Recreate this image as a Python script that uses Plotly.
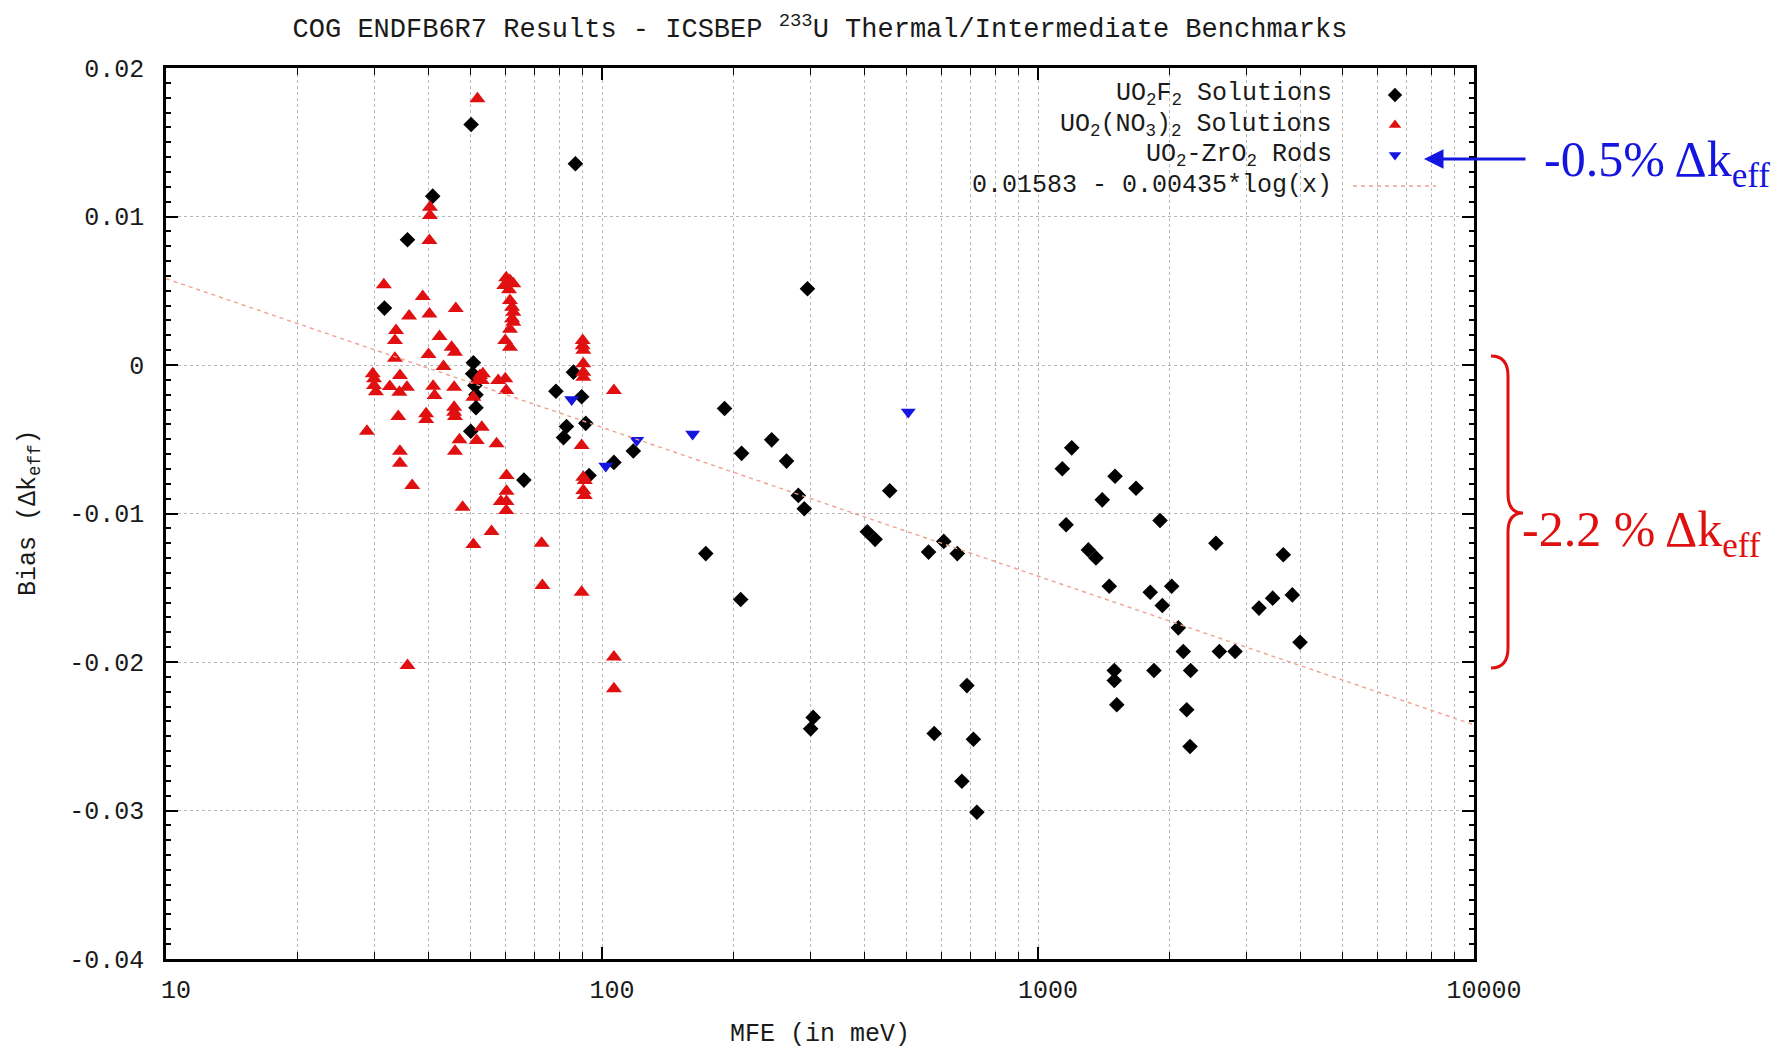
import numpy as np
import plotly.graph_objects as go

# ---------------- data ----------------
uo2f2_mfe = [50.1, 86.9, 40.9, 35.8, 31.7, 296, 50.7, 50.5, 51.1, 51.4, 51.4, 50.0,
             78.4, 86.0, 89.8, 91.8, 82.9, 81.6, 118, 106.5, 93.4, 66.2, 191, 209,
             245, 265, 282, 291, 457, 173, 208, 406, 423, 561, 608, 653, 305, 301,
             687, 578, 711, 669, 724, 1195, 1137, 1502, 1678, 1404, 1160, 1905, 1305,
             1358, 2559, 3653, 1457, 1809, 2026, 1928, 2098, 3213, 3453, 3831, 3990,
             2154, 2606, 2831, 1496, 1496, 1845, 2239, 1516, 2193, 2232]
uo2f2_bias = [0.0162, 0.01355, 0.01137, 0.00843, 0.00383, 0.00513, 0.00015, -0.00059,
              -0.00138, -0.00201, -0.00288, -0.00446, -0.00177, -0.00048, -0.00214,
              -0.00393, -0.00414, -0.00489, -0.00579, -0.00656, -0.00744, -0.00775,
              -0.00293, -0.00595, -0.00504, -0.00647, -0.00878, -0.00968, -0.00847,
              -0.0127, -0.01579, -0.01123, -0.01174, -0.0126, -0.01188, -0.0127,
              -0.02373, -0.0245, -0.02159, -0.02481, -0.0252, -0.02803, -0.03012,
              -0.00558, -0.00699, -0.00749, -0.0083, -0.00908, -0.01076, -0.01047,
              -0.01245, -0.01299, -0.012, -0.01278, -0.0149, -0.0153, -0.0149, -0.0162,
              -0.0177, -0.01637, -0.0157, -0.01548, -0.01867, -0.01929, -0.01929,
              -0.01929, -0.02057, -0.02125, -0.02057, -0.02057, -0.02288, -0.02322,
              -0.02569]

nitrate_mfe = [51.8, 40.3, 40.3, 40.2, 31.6, 38.8, 46.2, 36.1, 40.2,
               60.3, 61.5, 59.7, 62.6, 61.2, 61.5, 62.2, 62.6, 62.2, 62.6, 61.5, 60.0, 61.5,
               33.7, 33.5, 42.4, 45.2, 46.0, 33.5, 40.0, 43.3,
               29.8, 30.0, 30.0, 30.3, 32.6, 34.4, 34.3, 35.7, 41.0, 41.3, 45.8, 45.8,
               45.8, 46.0, 39.5, 39.5, 34.1, 28.9, 34.4, 34.4, 36.7,
               52.5, 53.3, 52.0, 53.0, 50.7, 53.0, 47.1, 51.6, 57.3, 46.0, 57.8, 60.0, 60.3,
               60.4, 60.4, 58.6, 60.4, 60.3, 47.9, 55.8, 50.7, 72.7, 73.0, 89.8, 35.8,
               106.5, 106.5, 106.5,
               89.8, 90.6, 91.3, 90.6, 91.3, 90.3, 90.3, 90.6, 90.6, 90.6, 90.6]
nitrate_bias = [0.01793, 0.01063, 0.01007, 0.00838, 0.0054, 0.00461, 0.00381, 0.0033, 0.00343,
                0.00587, 0.00569, 0.00535, 0.00547, 0.00506, 0.00434, 0.00389, 0.00356,
                0.00311, 0.00288, 0.0024, 0.00165, 0.0012,
                0.00232, 0.00165, 0.00192, 0.0012, 0.00086, 0.00046, 0.00071, -0.0001,
                -0.00059, -0.00093, -0.00138, -0.0018, -0.00145, -0.00071, -0.00183, -0.0015,
                -0.00143, -0.00205, -0.0015, -0.00284, -0.00318, -0.00347, -0.00329, -0.00367,
                -0.00347, -0.00446, -0.0058, -0.00661, -0.00811,
                -0.00071, -0.00059, -0.00104, -0.00104, -0.00217, -0.00419, -0.00504, -0.00508,
                -0.00531, -0.0058, -0.00104, -0.00093, -0.00172,
                -0.00744, -0.0085, -0.00919, -0.00919, -0.0098, -0.00958, -0.01121, -0.01209,
                -0.012, -0.01485, -0.0153, -0.02024, -0.01967, -0.0218, -0.00172,
                -0.00542, -0.00756, -0.00778, -0.00845, -0.00879, 0.00165, 0.0013, 0.001,
                0.00008, -0.00048, -0.00082]

rods_mfe = [85.2, 120.2, 161.4, 102.0, 504]
rods_bias = [-0.00232, -0.00507, -0.00465, -0.0068, -0.00317]

fit_a = 0.01583
fit_b = 0.00435
fit_mfe = [10, 10000]

series_names = ["UO<sub>2</sub>F<sub>2</sub> Solutions",
                "UO<sub>2</sub>(NO<sub>3</sub>)<sub>2</sub> Solutions",
                "UO<sub>2</sub>-ZrO<sub>2</sub> Rods",
                "0.01583 - 0.00435*log(x)"]

x_tickvals = [10, 100, 1000, 10000]
x_ticktext = ["10", "100", "1000", "10000"]
x_minor = [m * d for d in (10, 100, 1000) for m in range(2, 10)]
y_tickvals = [0.02, 0.01, 0.0, -0.01, -0.02, -0.03, -0.04]
y_ticktext = ["0.02", "0.01", "0", "-0.01", "-0.02", "-0.03", "-0.04"]

title_text = "COG ENDFB6R7 Results - ICSBEP <sup>233</sup>U Thermal/Intermediate Benchmarks"
x_title = "MFE (in meV)"
y_title = "Bias (\u0394k<sub>eff</sub>)"
note_blue = "-0.5% \u0394k<sub>eff</sub>"
note_red = "-2.2 % \u0394k<sub>eff</sub>"

# ---------------- layout geometry (pixels) ----------------
W, H = 1791, 1051
L, R, T, B = 166, 1474, 68, 959


def px(xp):
    return (xp - L) / (R - L)


def py(yp):
    return (B - yp) / (B - T)


MONO = "Liberation Mono, Courier New, monospace"
SERIF = "Liberation Serif, Times New Roman, serif"
BLACK = "#000000"
RED = "#e01010"
BLUE = "#1515e0"
FITC = "#f0a090"
GRID = "#b8b8b8"
TXT = "#1a1a1a"
FS = 25

fig = go.Figure()

fig.add_trace(go.Scatter(x=uo2f2_mfe, y=uo2f2_bias, mode="markers",
                         marker=dict(symbol="diamond", size=12, color=BLACK,
                                     line=dict(width=0)),
                         showlegend=False, hoverinfo="skip"))
fig.add_trace(go.Scatter(x=nitrate_mfe, y=nitrate_bias, mode="markers",
                         marker=dict(symbol="triangle-up", size=14, color=RED,
                                     line=dict(width=0)),
                         showlegend=False, hoverinfo="skip"))
fig.add_trace(go.Scatter(x=rods_mfe, y=rods_bias, mode="markers",
                         marker=dict(symbol="triangle-down", size=13, color=BLUE,
                                     line=dict(width=0)),
                         showlegend=False, hoverinfo="skip"))
fit_bias = [fit_a - fit_b * np.log(v) for v in fit_mfe]
fig.add_trace(go.Scatter(x=fit_mfe, y=fit_bias, mode="lines",
                         line=dict(color=FITC, width=1.4, dash="4px,4px"),
                         showlegend=False, hoverinfo="skip"))

# custom gnuplot-style key (text right, sample on the right) on a pixel overlay axis
key_rows = [95, 125, 155, 186]
key_mx = 1395
fig.add_trace(go.Scatter(x=[key_mx], y=[key_rows[0]], xaxis="x2", yaxis="y2", mode="markers",
                         marker=dict(symbol="diamond", size=11, color=BLACK),
                         showlegend=False, hoverinfo="skip"))
fig.add_trace(go.Scatter(x=[key_mx], y=[key_rows[1]], xaxis="x2", yaxis="y2", mode="markers",
                         marker=dict(symbol="triangle-up", size=11, color=RED),
                         showlegend=False, hoverinfo="skip"))
fig.add_trace(go.Scatter(x=[key_mx], y=[key_rows[2]], xaxis="x2", yaxis="y2", mode="markers",
                         marker=dict(symbol="triangle-down", size=11, color=BLUE),
                         showlegend=False, hoverinfo="skip"))
fig.add_trace(go.Scatter(x=[1353, 1436], y=[key_rows[3], key_rows[3]], xaxis="x2", yaxis="y2",
                         mode="lines", line=dict(color=FITC, width=1.4, dash="4px,4px"),
                         showlegend=False, hoverinfo="skip"))

annotations = []
for name, row in zip(series_names, key_rows):
    annotations.append(dict(text=name, x=px(1334), y=py(row), xref="paper", yref="paper",
                            xanchor="right", yanchor="middle", showarrow=False,
                            font=dict(family=MONO, size=FS, color=TXT)))

annotations.append(dict(text=x_title, x=0.5, y=py(1034), xref="paper", yref="paper",
                        xanchor="center", yanchor="middle", showarrow=False,
                        font=dict(family=MONO, size=FS, color=TXT)))
annotations.append(dict(text=y_title, x=px(29), y=py(513), xref="paper", yref="paper",
                        xanchor="center", yanchor="middle", showarrow=False, textangle=-90,
                        font=dict(family=MONO, size=FS, color=TXT)))

# blue arrow and note
annotations.append(dict(text="", x=px(1424), y=py(159), xref="paper", yref="paper",
                        showarrow=True, ax=103, ay=0, axref="pixel", ayref="pixel",
                        arrowhead=2, arrowsize=1.3, arrowwidth=3, arrowcolor=BLUE))
annotations.append(dict(text=note_blue, x=px(1542), y=py(163), xref="paper", yref="paper",
                        xanchor="left", yanchor="middle", showarrow=False,
                        font=dict(family=SERIF, size=50, color=BLUE)))
annotations.append(dict(text=note_red, x=px(1520), y=py(533), xref="paper", yref="paper",
                        xanchor="left", yanchor="middle", showarrow=False,
                        font=dict(family=SERIF, size=50, color=RED)))

# curly brace
bp = [(1491, 356), (1508, 356), (1508, 376), (1508, 494), (1508, 513), (1523, 513),
      (1508, 513), (1508, 532), (1508, 648), (1508, 668), (1491, 668)]
P = [(px(a), py(b)) for a, b in bp]
path = ("M {0[0]} {0[1]} Q {1[0]} {1[1]} {2[0]} {2[1]} L {3[0]} {3[1]} "
        "Q {4[0]} {4[1]} {5[0]} {5[1]} Q {6[0]} {6[1]} {7[0]} {7[1]} "
        "L {8[0]} {8[1]} Q {9[0]} {9[1]} {10[0]} {10[1]}").format(*P)
shapes = [dict(type="path", path=path, xref="paper", yref="paper",
               line=dict(color=RED, width=3))]

fig.update_layout(
    width=W, height=H, autosize=False,
    margin=dict(l=L, r=W - R, t=T, b=H - B, pad=0),
    paper_bgcolor="white", plot_bgcolor="white",
    showlegend=False,
    title=dict(text=title_text, x=0.5, xref="paper", xanchor="center",
               y=1 - 28 / H, yref="container", yanchor="middle",
               font=dict(family=MONO, size=27, color=TXT)),
    xaxis=dict(type="log", range=[1, 4], tickmode="array", tickvals=x_tickvals,
               ticktext=x_ticktext, ticks="inside", ticklen=12, tickwidth=1.5,
               tickcolor=BLACK, showline=True, linewidth=2.5, linecolor=BLACK,
               mirror="allticks", showgrid=True, gridcolor=GRID, griddash="dot",
               gridwidth=1, zeroline=False, ticklabelstandoff=6, ticklabelshift=10,
               tickfont=dict(family=MONO, size=FS, color=TXT),
               minor=dict(tickmode="array", tickvals=x_minor, ticks="inside", ticklen=7,
                          tickwidth=1.2, tickcolor=BLACK, showgrid=True, gridcolor=GRID,
                          griddash="dot", gridwidth=1)),
    yaxis=dict(range=[-0.04, 0.02], tickmode="array", tickvals=y_tickvals,
               ticktext=y_ticktext, ticks="inside", ticklen=12, tickwidth=2,
               tickcolor=BLACK, showline=True, linewidth=2.5, linecolor=BLACK,
               mirror="allticks", showgrid=True, gridcolor=GRID, griddash="dot",
               gridwidth=1, zeroline=False, ticklabelstandoff=14,
               tickfont=dict(family=MONO, size=FS, color=TXT),
               minor=dict(dtick=0.001, tick0=0, ticks="inside", ticklen=5, tickwidth=2,
                          tickcolor=BLACK, showgrid=False)),
    xaxis2=dict(overlaying="x", range=[L, R], visible=False, anchor="y"),
    yaxis2=dict(overlaying="y", range=[B, T], visible=False, anchor="x"),
    annotations=annotations,
    shapes=shapes,
)

fig.write_html("out.html")
